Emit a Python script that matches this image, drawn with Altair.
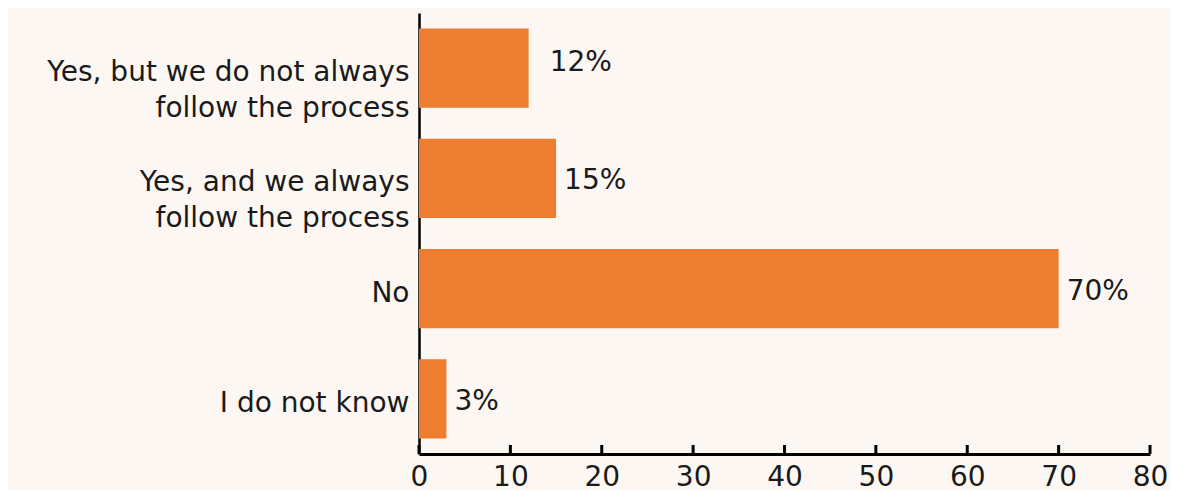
import altair as alt
import pandas as pd

categories = [
    "Yes, but we do not always\nfollow the process",
    "Yes, and we always\nfollow the process",
    "No",
    "I do not know",
]
values = [12, 15, 70, 3]
value_labels = ["12%", "15%", "70%", "3%"]
x_ticks = [0, 10, 20, 30, 40, 50, 60, 70, 80]

df = pd.DataFrame({"cat": categories, "val": values, "lab": value_labels})
ticks_df = pd.DataFrame({"t": x_ticks})

FONT = "DejaVu Sans"
TXT = "#1a1a1a"
FS = 28
W, H = 731, 441

xscale = alt.Scale(domain=[0, 80], nice=False)
yscale = alt.Scale(domain=categories, paddingInner=0.28, paddingOuter=0.14)

bars = alt.Chart(df).mark_bar(color="#ED7D31").encode(
    x=alt.X("val:Q", scale=xscale,
            axis=alt.Axis(values=x_ticks, title=None, ticks=False, grid=False,
                          domainColor="#000000", domainWidth=3,
                          labelFont=FONT, labelFontSize=FS, labelColor=TXT,
                          labelPadding=9, labelFlush=False)),
    y=alt.Y("cat:N", scale=yscale, sort=categories,
            axis=alt.Axis(title=None, ticks=False, grid=False,
                          domainColor="#000000", domainWidth=2.5,
                          labelFont=FONT, labelFontSize=FS, labelColor=TXT,
                          labelPadding=10, labelLineHeight=36, labelLimit=500,
                          labelOffset=5,
                          labelExpr="split(datum.label, '\\n')")),
)

first = df.iloc[[0]]
rest = df.iloc[1:]

txt_first = alt.Chart(first).mark_text(
    align="left", baseline="middle", dx=21, dy=-5,
    font=FONT, fontSize=FS, color=TXT,
).encode(x=alt.X("val:Q", scale=xscale), y=alt.Y("cat:N", scale=yscale, sort=categories), text="lab:N")

txt_rest = alt.Chart(rest).mark_text(
    align="left", baseline="middle", dx=8, dy=3,
    font=FONT, fontSize=FS, color=TXT,
).encode(x=alt.X("val:Q", scale=xscale), y=alt.Y("cat:N", scale=yscale, sort=categories), text="lab:N")

tick_marks = alt.Chart(ticks_df).mark_rule(color="#000000", strokeWidth=3).encode(
    x=alt.X("t:Q", scale=xscale),
    y=alt.value(H - 9),
    y2=alt.value(H),
)

chart = alt.layer(bars, tick_marks, txt_first, txt_rest).properties(
    width=W, height=H,
    background="#FCF7F3",
    padding={"left": 411, "top": 5, "right": 20, "bottom": 36},
    autosize=alt.AutoSizeParams(type="none"),
).configure_view(stroke=None)

chart.save("out.html", embed_options={"renderer": "svg", "actions": False})
